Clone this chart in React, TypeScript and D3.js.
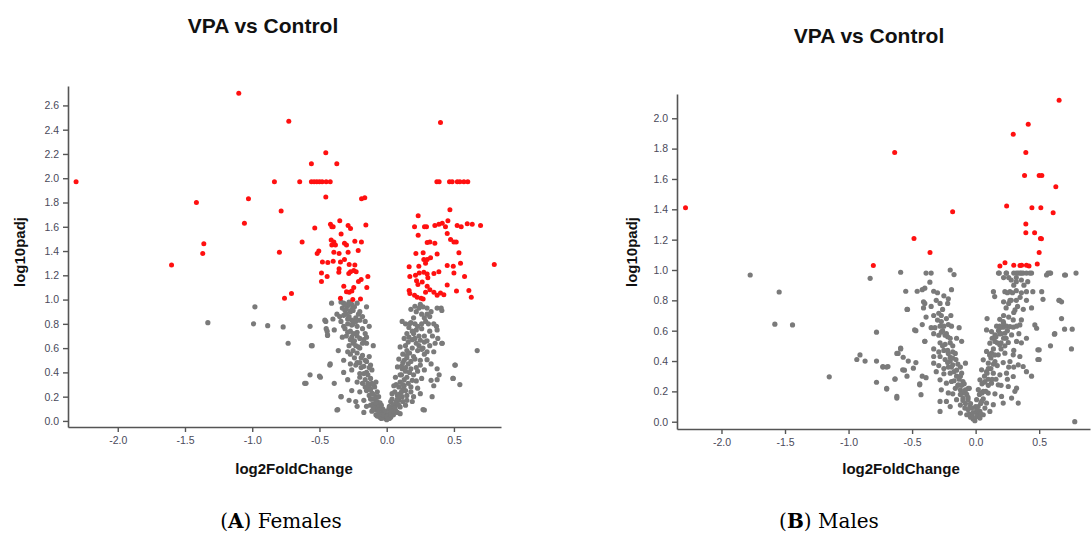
import React, { useRef, useEffect } from "react";
import * as d3 from "d3";

type Pt = [number, number]; // [log2FoldChange, log10padj]

const xTicks = [-2.0, -1.5, -1.0, -0.5, 0.0, 0.5];
const femalesYTicks = [0, 0.2, 0.4, 0.6, 0.8, 1.0, 1.2, 1.4, 1.6, 1.8, 2.0, 2.2, 2.4, 2.6];
const malesYTicks = [0, 0.2, 0.4, 0.6, 0.8, 1.0, 1.2, 1.4, 1.6, 1.8, 2.0];

// Females: not significant genes
const femalesGray: Pt[] = [
  [-1.33, 0.81], [-0.98, 0.94], [-0.99, 0.8], [-0.885, 0.785], [-0.77, 0.775], [-0.733, 0.64],
  [-0.554, 0.62], [-0.453, 0.82], [-0.443, 0.74], [-0.44, 0.705], [-0.423, 0.46], [-0.493, 0.36],
  [-0.61, 0.31], [-0.364, 0.094], [-0.339, 0.2],
  [-0.41, 0.97], [-0.34, 0.98], [-0.32, 0.97], [-0.29, 0.95], [-0.26, 0.96], [-0.22, 0.97], [-0.15, 0.94],
  [-0.33, 0.93], [-0.31, 0.91], [-0.27, 0.9], [-0.25, 0.91], [-0.21, 0.88], [-0.18, 0.86], [-0.32, 0.87],
  [-0.37, 0.88], [-0.29, 0.84], [-0.26, 0.83], [-0.23, 0.85], [-0.2, 0.83], [-0.16, 0.82], [-0.46, 0.83],
  [-0.4, 0.84], [-0.34, 0.82], [-0.26, 0.79], [-0.22, 0.78], [-0.18, 0.76], [-0.13, 0.78], [-0.57, 0.78],
  [-0.45, 0.76], [-0.39, 0.75], [-0.32, 0.78], [-0.29, 0.73], [-0.22, 0.73], [-0.16, 0.72], [-0.44, 0.71],
  [-0.33, 0.69], [-0.26, 0.69], [-0.22, 0.7], [-0.17, 0.67], [-0.15, 0.69], [-0.56, 0.62], [-0.28, 0.62],
  [-0.25, 0.64], [-0.21, 0.61], [-0.15, 0.64], [-0.1, 0.62], [-0.36, 0.58], [-0.29, 0.57], [-0.22, 0.56],
  [-0.18, 0.54], [-0.13, 0.53], [-0.42, 0.47], [-0.32, 0.5], [-0.27, 0.47], [-0.22, 0.48], [-0.15, 0.49],
  [-0.12, 0.46], [-0.32, 0.4], [-0.26, 0.42], [-0.2, 0.39], [-0.15, 0.4], [-0.11, 0.42], [-0.57, 0.38],
  [-0.5, 0.37], [-0.6, 0.31], [-0.39, 0.31], [-0.29, 0.34], [-0.22, 0.32], [-0.16, 0.34], [-0.11, 0.31],
  [-0.08, 0.32], [-0.34, 0.2], [-0.26, 0.25], [-0.2, 0.24], [-0.15, 0.25], [-0.11, 0.23], [-0.07, 0.24],
  [-0.28, 0.17], [-0.23, 0.16], [-0.17, 0.17], [-0.12, 0.18], [-0.08, 0.2], [-0.37, 0.09], [-0.22, 0.12],
  [-0.15, 0.12], [-0.1, 0.14], [-0.07, 0.16], [-0.17, 0.07], [-0.11, 0.08], [-0.08, 0.09], [-0.05, 0.12],
  [-0.08, 0.05], [-0.05, 0.06], [-0.03, 0.03], [-0.02, 0.07], [0.0, 0.01], [-0.01, 0.02],
  [-0.06, 0.1], [-0.04, 0.08], [-0.02, 0.04], [-0.03, 0.1], [-0.05, 0.15], [-0.09, 0.18], [-0.1, 0.22],
  [-0.06, 0.2], [-0.13, 0.28], [-0.12, 0.35], [-0.09, 0.28], [-0.14, 0.38], [-0.13, 0.44], [-0.17, 0.45],
  [-0.16, 0.5], [-0.19, 0.52], [-0.2, 0.6], [-0.18, 0.64], [-0.24, 0.66], [-0.23, 0.72], [-0.27, 0.74],
  [-0.25, 0.8], [-0.28, 0.86], [-0.3, 0.92], [-0.24, 0.94], [-0.2, 0.9], [-0.04, 0.02], [-0.01, 0.05],
  [0.01, 0.03], [0.02, 0.06],
  [-0.07, 0.04], [-0.05, 0.03], [-0.03, 0.05], [-0.01, 0.08], [0.0, 0.04], [0.02, 0.02], [-0.04, 0.13],
  [-0.06, 0.06], [-0.07, 0.13], [-0.09, 0.11], [-0.08, 0.15], [-0.1, 0.1], [-0.12, 0.13], [-0.11, 0.18],
  [-0.13, 0.21], [-0.14, 0.31], [-0.1, 0.3], [-0.12, 0.26], [-0.16, 0.28], [-0.18, 0.31], [-0.2, 0.36],
  [-0.17, 0.39], [-0.19, 0.44], [-0.23, 0.46], [-0.24, 0.52], [-0.2, 0.48], [-0.27, 0.55], [-0.25, 0.58],
  [-0.23, 0.62], [-0.27, 0.67], [-0.3, 0.7], [-0.2, 0.68], [-0.25, 0.72], [-0.31, 0.76], [-0.29, 0.8],
  [-0.23, 0.82], [-0.35, 0.86], [-0.3, 0.88], [-0.26, 0.92], [-0.28, 0.98], [-0.31, 0.96],
  [0.21, 0.945], [0.25, 0.96], [0.24, 0.93], [0.27, 0.94], [0.3, 0.93], [0.375, 0.93], [0.41, 0.91],
  [0.115, 0.82], [0.14, 0.8], [0.18, 0.81], [0.21, 0.8], [0.23, 0.78], [0.26, 0.8], [0.29, 0.82],
  [0.31, 0.8], [0.37, 0.78], [0.375, 0.75], [0.165, 0.77], [0.13, 0.68], [0.165, 0.69], [0.19, 0.67],
  [0.21, 0.68], [0.25, 0.665], [0.28, 0.65], [0.36, 0.64], [0.41, 0.64], [0.1, 0.61], [0.15, 0.58],
  [0.19, 0.6], [0.23, 0.58], [0.26, 0.59], [0.3, 0.57], [0.35, 0.57], [0.673, 0.58], [0.09, 0.51],
  [0.13, 0.5], [0.15, 0.52], [0.18, 0.49], [0.21, 0.51], [0.25, 0.5], [0.3, 0.505], [0.33, 0.47],
  [0.51, 0.46], [0.08, 0.445], [0.115, 0.43], [0.14, 0.41], [0.18, 0.43], [0.23, 0.41], [0.375, 0.43],
  [0.065, 0.36], [0.1, 0.38], [0.15, 0.36], [0.19, 0.335], [0.26, 0.35], [0.33, 0.335], [0.39, 0.38],
  [0.495, 0.35], [0.544, 0.3], [0.053, 0.29], [0.09, 0.28], [0.13, 0.29], [0.18, 0.28], [0.23, 0.27],
  [0.35, 0.29], [0.04, 0.225], [0.08, 0.21], [0.115, 0.2], [0.15, 0.21], [0.2, 0.2], [0.25, 0.225],
  [0.03, 0.16], [0.065, 0.14], [0.09, 0.17], [0.14, 0.13], [0.19, 0.16], [0.28, 0.09], [0.016, 0.1],
  [0.04, 0.06], [0.065, 0.09], [0.1, 0.115], [0.03, 0.03], [0.01, 0.02], [0.05, 0.05],
  [0.405, 0.93], [0.338, 0.2], [0.27, 0.094], [0.507, 0.46], [0.492, 0.35], [0.375, 0.34], [0.413, 0.64],
  [0.02, 0.12], [0.04, 0.18], [0.06, 0.24], [0.07, 0.3], [0.1, 0.32], [0.11, 0.45], [0.12, 0.55],
  [0.14, 0.62], [0.16, 0.65], [0.2, 0.72], [0.22, 0.75], [0.26, 0.76], [0.28, 0.85], [0.3, 0.88],
  [0.33, 0.9], [0.2, 0.85], [0.17, 0.8], [0.24, 0.62], [0.09, 0.22], [0.12, 0.26], [0.05, 0.13],
  [0.08, 0.07], [0.03, 0.08],
  [0.03, 0.05], [0.04, 0.1], [0.05, 0.08], [0.06, 0.11], [0.07, 0.16], [0.08, 0.18], [0.09, 0.13],
  [0.1, 0.2], [0.11, 0.24], [0.12, 0.3], [0.13, 0.34], [0.11, 0.38], [0.14, 0.44], [0.16, 0.47],
  [0.12, 0.48], [0.15, 0.54], [0.17, 0.56], [0.2, 0.53], [0.22, 0.44], [0.17, 0.4], [0.16, 0.31],
  [0.14, 0.25], [0.12, 0.16], [0.18, 0.92], [0.22, 0.9], [0.26, 0.88], [0.32, 0.86], [0.35, 0.8],
  [0.32, 0.74], [0.28, 0.7], [0.24, 0.7], [0.19, 0.74], [0.15, 0.72], [0.22, 0.64], [0.27, 0.6],
  [0.32, 0.62], [0.3, 0.66], [0.34, 0.7], [0.38, 0.68], [0.28, 0.55], [0.25, 0.46], [0.28, 0.42],
  [0.2, 0.38], [0.22, 0.33], [0.18, 0.24], [0.15, 0.17], [0.1, 0.06],
];

// Females: significant genes
const femalesRed: Pt[] = [
  [-2.31, 1.97], [-1.1, 2.7], [-1.415, 1.8], [-1.028, 1.83], [-1.058, 1.63], [-1.36, 1.46], [-1.368, 1.38],
  [-1.6, 1.285], [-0.728, 2.47], [-0.453, 2.21], [-0.56, 2.12], [-0.371, 2.12], [-0.835, 1.97],
  [-0.647, 1.97], [-0.56, 1.97], [-0.54, 1.97], [-0.52, 1.97], [-0.5, 1.97], [-0.48, 1.97], [-0.45, 1.97],
  [-0.42, 1.97], [-0.453, 1.845], [-0.187, 1.83], [-0.163, 1.84], [-0.785, 1.73], [-0.798, 1.39],
  [-0.76, 1.01], [-0.708, 1.05],
  [0.4, 2.46], [0.373, 1.97], [0.39, 1.97], [0.467, 1.97], [0.487, 1.97], [0.525, 1.97], [0.544, 1.97],
  [0.574, 1.97], [0.603, 1.97], [0.47, 1.74], [0.8, 1.29],
  [-0.535, 1.59], [-0.418, 1.62], [-0.408, 1.6], [-0.398, 1.6], [-0.349, 1.65], [-0.287, 1.61],
  [-0.269, 1.585], [-0.155, 1.615], [-0.629, 1.475], [-0.413, 1.49], [-0.393, 1.475], [-0.408, 1.45],
  [-0.381, 1.45], [-0.314, 1.465], [-0.299, 1.45], [-0.237, 1.48], [-0.188, 1.475], [-0.339, 1.54],
  [-0.505, 1.4], [-0.517, 1.38], [-0.393, 1.39], [-0.354, 1.38], [-0.287, 1.39], [-0.212, 1.405],
  [-0.478, 1.31], [-0.438, 1.305], [-0.398, 1.315], [-0.344, 1.31], [-0.314, 1.33], [-0.279, 1.29],
  [-0.237, 1.285], [-0.354, 1.255], [-0.245, 1.24], [-0.269, 1.23], [-0.227, 1.23], [-0.485, 1.22],
  [-0.443, 1.19], [-0.356, 1.225], [-0.282, 1.215], [-0.14, 1.19], [-0.485, 1.15], [-0.319, 1.11],
  [-0.21, 1.15], [-0.19, 1.165], [-0.148, 1.1], [-0.299, 1.065], [-0.279, 1.06], [-0.259, 1.07],
  [-0.245, 1.1], [-0.344, 1.01], [-0.252, 1.0], [-0.195, 1.005],
  [0.234, 1.69], [0.207, 1.6], [0.281, 1.6], [0.296, 1.6], [0.358, 1.61], [0.388, 1.62], [0.413, 1.63],
  [0.437, 1.6], [0.455, 1.65], [0.524, 1.61], [0.554, 1.6], [0.599, 1.625], [0.636, 1.62], [0.698, 1.61],
  [0.234, 1.53], [0.301, 1.47], [0.321, 1.475], [0.358, 1.465], [0.45, 1.545], [0.475, 1.495],
  [0.5, 1.475], [0.517, 1.475], [0.217, 1.38], [0.271, 1.385], [0.276, 1.33], [0.301, 1.33],
  [0.326, 1.345], [0.375, 1.375], [0.289, 1.3], [0.239, 1.275], [0.45, 1.28], [0.495, 1.275],
  [0.537, 1.385], [0.549, 1.3], [0.167, 1.27], [0.172, 1.19], [0.214, 1.2], [0.242, 1.22], [0.276, 1.225],
  [0.301, 1.21], [0.306, 1.18], [0.351, 1.215], [0.388, 1.23], [0.5, 1.22], [0.579, 1.19], [0.222, 1.155],
  [0.232, 1.125], [0.264, 1.145], [0.301, 1.11], [0.45, 1.12], [0.519, 1.07], [0.611, 1.075],
  [0.167, 1.075], [0.172, 1.05], [0.207, 1.035], [0.256, 1.01], [0.271, 1.005], [0.289, 1.06],
  [0.321, 1.08], [0.351, 1.06], [0.375, 1.035], [0.4, 1.055], [0.425, 1.04], [0.629, 1.02], [0.227, 1.02],
];

// Males: not significant genes
const malesGray: Pt[] = [
  [-1.774, 0.967], [-1.546, 0.855], [-1.58, 0.643], [-1.441, 0.638], [-1.152, 0.296],
  [-0.83, 0.945], [-0.536, 0.74], [-0.78, 0.59], [-0.47, 0.6], [-0.4, 0.53], [-0.59, 0.485], [-0.61, 0.45],
  [-0.91, 0.44], [-0.935, 0.41], [-0.87, 0.4], [-0.78, 0.4], [-0.73, 0.364], [-0.69, 0.364], [-0.574, 0.342],
  [-0.53, 0.4], [-0.78, 0.26], [-0.634, 0.283], [-0.7, 0.22], [-0.62, 0.167], [-0.44, 0.243],
  [-0.59, 0.985], [-0.39, 0.98], [-0.35, 0.98], [-0.2, 1.0], [-0.17, 0.97], [-0.36, 0.92], [-0.55, 0.86],
  [-0.46, 0.86], [-0.42, 0.87], [-0.4, 0.88], [-0.33, 0.86], [-0.3, 0.85], [-0.19, 0.87], [-0.215, 0.81],
  [-0.41, 0.79], [-0.4, 0.78], [-0.54, 0.74], [-0.41, 0.75], [-0.39, 0.69], [-0.29, 0.715], [-0.27, 0.7],
  [-0.195, 0.7], [-0.48, 0.605], [-0.42, 0.64], [-0.35, 0.62], [-0.32, 0.62], [-0.28, 0.63], [-0.25, 0.63],
  [-0.215, 0.64], [-0.19, 0.63], [-0.13, 0.62], [-0.33, 0.58], [-0.27, 0.59], [-0.23, 0.58], [-0.4, 0.53],
  [-0.28, 0.52], [-0.24, 0.51], [-0.2, 0.52], [-0.15, 0.55], [-0.11, 0.53], [-0.62, 0.45], [-0.59, 0.48],
  [-0.57, 0.425], [-0.33, 0.48], [-0.29, 0.46], [-0.25, 0.47], [-0.215, 0.45], [-0.18, 0.46],
  [-0.33, 0.43], [-0.28, 0.43], [-0.24, 0.41], [-0.2, 0.425], [-0.155, 0.41], [-0.73, 0.36], [-0.7, 0.36],
  [-0.47, 0.39], [-0.33, 0.386], [-0.29, 0.37], [-0.25, 0.35], [-0.215, 0.36], [-0.18, 0.375],
  [-0.12, 0.36], [-0.08, 0.386], [-0.56, 0.34], [-0.49, 0.353], [-0.31, 0.33], [-0.25, 0.316],
  [-0.2, 0.32], [-0.15, 0.3], [-0.11, 0.32], [-0.54, 0.3], [-0.635, 0.28], [-0.42, 0.3], [-0.39, 0.29],
  [-0.44, 0.25], [-0.28, 0.276], [-0.23, 0.254], [-0.19, 0.265], [-0.135, 0.243], [-0.1, 0.265],
  [-0.7, 0.215], [-0.62, 0.156], [-0.43, 0.178], [-0.27, 0.21], [-0.215, 0.19], [-0.18, 0.184],
  [-0.12, 0.21], [-0.085, 0.2], [-0.058, 0.22], [-0.28, 0.134], [-0.23, 0.134], [-0.15, 0.145],
  [-0.1, 0.156], [-0.06, 0.145], [-0.28, 0.068], [-0.2, 0.1], [-0.12, 0.11], [-0.085, 0.09],
  [-0.045, 0.1], [-0.12, 0.057], [-0.07, 0.046], [-0.03, 0.035], [-0.02, 0.018], [-0.006, 0.007],
  [-0.05, 0.05], [-0.04, 0.12], [-0.07, 0.18], [-0.09, 0.25], [-0.12, 0.3], [-0.14, 0.38], [-0.16, 0.45],
  [-0.18, 0.5], [-0.22, 0.56], [-0.26, 0.6], [-0.3, 0.67], [-0.26, 0.74], [-0.22, 0.78], [-0.31, 0.8],
  [-0.05, 0.22], [-0.03, 0.09], [-0.1, 0.19], [-0.14, 0.24], [-0.17, 0.33], [-0.2, 0.4],
  [-0.04, 0.03], [-0.02, 0.06], [0.0, 0.1], [0.01, 0.06], [0.02, 0.04], [-0.06, 0.08], [-0.08, 0.12],
  [-0.06, 0.16], [-0.1, 0.14], [-0.12, 0.18], [-0.08, 0.21], [-0.11, 0.24], [-0.16, 0.22], [-0.13, 0.28],
  [-0.17, 0.27], [-0.15, 0.34], [-0.19, 0.36], [-0.22, 0.39], [-0.18, 0.42], [-0.22, 0.47], [-0.26, 0.5],
  [-0.2, 0.55], [-0.24, 0.57], [-0.29, 0.57], [-0.27, 0.66], [-0.23, 0.68], [-0.33, 0.7], [-0.35, 0.76],
  [-0.28, 0.78], [-0.25, 0.83],
  [0.18, 0.98], [0.24, 0.98], [0.335, 0.98], [0.35, 0.98], [0.36, 0.98], [0.374, 0.98], [0.4, 0.98],
  [0.44, 0.98], [0.57, 0.98], [0.59, 0.98], [0.7, 0.967], [0.79, 0.98], [0.22, 0.95], [0.28, 0.934],
  [0.32, 0.923], [0.36, 0.934], [0.41, 0.923], [0.14, 0.857], [0.15, 0.825], [0.23, 0.857],
  [0.27, 0.857], [0.32, 0.864], [0.36, 0.85], [0.4, 0.857], [0.45, 0.857], [0.52, 0.857], [0.53, 0.807],
  [0.66, 0.8], [0.676, 0.79], [0.22, 0.79], [0.27, 0.8], [0.32, 0.8], [0.24, 0.75], [0.31, 0.737],
  [0.375, 0.741], [0.44, 0.75], [0.676, 0.68], [0.09, 0.68], [0.19, 0.675], [0.217, 0.66], [0.296, 0.671],
  [0.36, 0.671], [0.466, 0.638], [0.48, 0.616], [0.7, 0.61], [0.76, 0.61], [0.62, 0.577], [0.165, 0.63],
  [0.19, 0.63], [0.217, 0.623], [0.243, 0.63], [0.27, 0.627], [0.296, 0.623], [0.322, 0.63],
  [0.348, 0.638], [0.086, 0.605], [0.125, 0.594], [0.152, 0.572], [0.19, 0.579], [0.23, 0.583],
  [0.283, 0.572], [0.112, 0.518], [0.152, 0.529], [0.19, 0.507], [0.257, 0.522], [0.322, 0.529],
  [0.4, 0.55], [0.589, 0.5], [0.754, 0.48], [0.49, 0.474], [0.086, 0.463], [0.125, 0.452], [0.178, 0.441],
  [0.23, 0.452], [0.296, 0.441], [0.348, 0.43], [0.49, 0.41], [0.06, 0.408], [0.1, 0.386], [0.152, 0.397],
  [0.217, 0.39], [0.27, 0.397], [0.335, 0.375], [0.374, 0.364], [0.4, 0.33], [0.44, 0.3], [0.047, 0.342],
  [0.086, 0.331], [0.139, 0.32], [0.191, 0.309], [0.243, 0.32], [0.296, 0.298], [0.034, 0.276],
  [0.073, 0.265], [0.125, 0.254], [0.178, 0.243], [0.257, 0.232], [0.322, 0.221], [0.021, 0.211],
  [0.06, 0.2], [0.099, 0.189], [0.152, 0.184], [0.204, 0.167], [0.283, 0.156], [0.309, 0.2],
  [0.008, 0.145], [0.047, 0.134], [0.086, 0.123], [0.139, 0.112], [0.217, 0.123], [0.335, 0.123],
  [0.008, 0.079], [0.034, 0.068], [0.073, 0.09], [0.112, 0.068], [0.008, 0.035], [0.034, 0.024],
  [0.06, 0.046], [0.78, 0.0], [0.186, 0.98], [0.243, 0.98], [0.32, 0.98], [0.427, 0.98], [0.558, 0.967],
  [0.584, 0.98], [0.707, 0.967], [0.655, 0.8], [0.623, 0.58], [0.5, 0.474], [0.5, 0.41],
  [0.02, 0.1], [0.03, 0.18], [0.05, 0.25], [0.07, 0.3], [0.1, 0.35], [0.12, 0.42], [0.14, 0.48],
  [0.16, 0.56], [0.18, 0.6], [0.2, 0.58], [0.22, 0.55], [0.25, 0.6], [0.2, 0.48], [0.17, 0.37],
  [0.13, 0.28], [0.1, 0.24], [0.06, 0.15], [0.04, 0.05], [0.22, 0.7], [0.25, 0.85], [0.28, 0.8], [0.3, 0.9],
  [0.04, 0.12], [0.05, 0.19], [0.08, 0.2], [0.07, 0.26], [0.1, 0.28], [0.09, 0.32], [0.12, 0.35],
  [0.14, 0.38], [0.11, 0.44], [0.15, 0.44], [0.17, 0.52], [0.13, 0.55], [0.2, 0.52], [0.23, 0.5],
  [0.24, 0.55], [0.19, 0.62], [0.22, 0.65], [0.26, 0.69], [0.3, 0.72], [0.26, 0.78], [0.33, 0.76],
  [0.35, 0.82], [0.29, 0.85], [0.32, 0.95], [0.3, 0.98], [0.26, 0.95], [0.38, 0.9], [0.4, 0.8],
  [0.16, 0.28], [0.2, 0.24], [0.25, 0.28], [0.26, 0.36], [0.3, 0.36], [0.3, 0.47], [0.36, 0.52], [0.34, 0.58],
];

// Males: significant genes
const malesRed: Pt[] = [
  [-2.283, 1.41], [0.657, 2.118], [0.414, 1.96], [0.296, 1.895], [-0.637, 1.774], [0.395, 1.774],
  [0.385, 1.623], [0.5, 1.623], [0.521, 1.623], [0.631, 1.548], [0.244, 1.421], [-0.181, 1.384],
  [0.443, 1.41], [0.513, 1.41], [0.61, 1.377], [0.395, 1.303], [0.395, 1.246], [0.464, 1.246],
  [0.51, 1.208], [0.518, 1.206], [-0.485, 1.208], [-0.359, 1.116], [0.5, 1.116], [-0.805, 1.029],
  [0.191, 1.026], [0.231, 1.048], [0.3, 1.031], [0.349, 1.029], [0.362, 1.031], [0.4, 1.031],
  [0.42, 1.026], [0.485, 1.04],
];

const panels = [
  {
    gray: femalesGray, red: femalesRed, yTicks: femalesYTicks,
    xDomain: [-2.37, 0.85], xRange: [68, 501], yDomain: [-0.05, 2.76], yRange: [427, 86],
    titleX: 263, titleY: 33, yLabelX: 25, xLabelX: 294, captionX: 281, letter: "A", rest: " Females",
  },
  {
    gray: malesGray, red: malesRed, yTicks: malesYTicks,
    xDomain: [-2.35, 0.9], xRange: [677, 1090], yDomain: [-0.048, 2.16], yRange: [429, 94],
    titleX: 869, titleY: 43, yLabelX: 637, xLabelX: 901, captionX: 829, letter: "B", rest: " Males",
  },
];

const App = () => {
  const svgRef = useRef<SVGSVGElement>(null);

  useEffect(() => {
    const svg = d3.select(svgRef.current);
    svg.selectAll("*").remove();
    const fmt = (d) => d.toFixed(1);
    const axisColor = "#555";

    panels.forEach((p) => {
      const x = d3.scaleLinear().domain(p.xDomain).range(p.xRange);
      const y = d3.scaleLinear().domain(p.yDomain).range(p.yRange);
      const g = svg.append("g");

      const styleAxis = (a) => {
        a.select(".domain").attr("stroke", axisColor).attr("stroke-width", 1.6);
        a.selectAll(".tick line").attr("stroke", axisColor).attr("stroke-width", 1.4);
        a.selectAll(".tick text")
          .attr("fill", "#4a4a5a")
          .attr("font-size", 10.5)
          .attr("font-family", "Liberation Sans, Arial, sans-serif");
      };

      g.append("g")
        .attr("transform", `translate(0,${p.yRange[0]})`)
        .call(d3.axisBottom(x).tickValues(xTicks).tickFormat(fmt).tickSize(5).tickPadding(5).tickSizeOuter(0))
        .call(styleAxis);

      g.append("g")
        .attr("transform", `translate(${p.xRange[0]},0)`)
        .call(d3.axisLeft(y).tickValues(p.yTicks).tickFormat(fmt).tickSize(5).tickPadding(4).tickSizeOuter(0))
        .call(styleAxis);

      g.append("g")
        .selectAll("circle")
        .data(p.gray)
        .join("circle")
        .attr("cx", (d) => x(d[0]))
        .attr("cy", (d) => y(d[1]))
        .attr("r", 2.6)
        .attr("fill", "#7a7a7a");

      g.append("g")
        .selectAll("circle")
        .data(p.red)
        .join("circle")
        .attr("cx", (d) => x(d[0]))
        .attr("cy", (d) => y(d[1]))
        .attr("r", 2.5)
        .attr("fill", "#ff1010");

      g.append("text")
        .attr("x", p.titleX)
        .attr("y", p.titleY)
        .attr("text-anchor", "middle")
        .attr("font-family", "Liberation Sans, Arial, sans-serif")
        .attr("font-weight", "bold")
        .attr("font-size", 21)
        .attr("fill", "#111")
        .text("VPA vs Control");

      g.append("text")
        .attr("transform", `translate(${p.yLabelX},252) rotate(-90)`)
        .attr("text-anchor", "middle")
        .attr("font-family", "Liberation Sans, Arial, sans-serif")
        .attr("font-weight", "bold")
        .attr("font-size", 15)
        .attr("fill", "#111")
        .text("log10padj");

      g.append("text")
        .attr("x", p.xLabelX)
        .attr("y", 474)
        .attr("text-anchor", "middle")
        .attr("font-family", "Liberation Sans, Arial, sans-serif")
        .attr("font-weight", "bold")
        .attr("font-size", 15)
        .attr("fill", "#111")
        .text("log2FoldChange");

      const cap = g.append("text")
        .attr("x", p.captionX)
        .attr("y", 528)
        .attr("text-anchor", "middle")
        .attr("font-family", "DejaVu Serif, serif")
        .attr("font-size", 20)
        .attr("fill", "#000");
      cap.append("tspan").text("(");
      cap.append("tspan").attr("font-weight", "bold").text(p.letter);
      cap.append("tspan").text(")" + p.rest);
    });
  }, []);

  return (
    <svg
      ref={svgRef}
      width={1091}
      height={538}
      style={{ position: "absolute", left: 0, top: 0, background: "#fff" }}
    ></svg>
  );
};

export default App;
